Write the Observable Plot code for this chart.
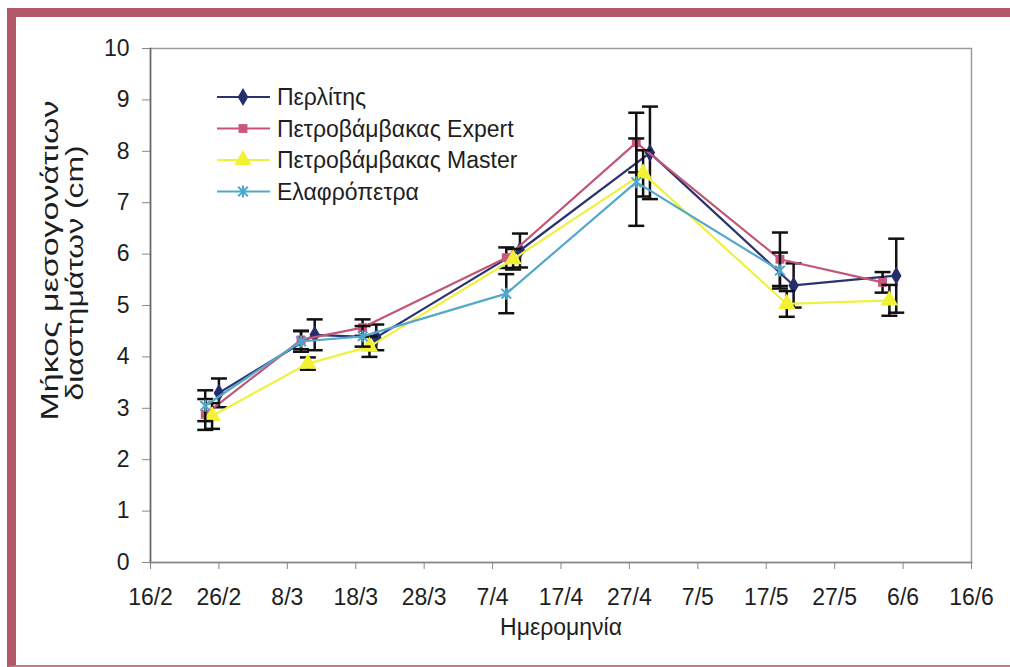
<!DOCTYPE html>
<html><head><meta charset="utf-8">
<script src="https://cdn.jsdelivr.net/npm/d3@7"></script>
<script src="https://cdn.jsdelivr.net/npm/@observablehq/plot@0.6"></script>
<style>
body{margin:0;background:#fff;}
#wrap{position:relative;width:1010px;height:667px;overflow:hidden;background:#fff}
#frame{position:absolute;left:7px;top:8px;width:1010px;height:659px;border-top:9px solid #b3586b;border-left:9px solid #b3586b;border-bottom:2px solid #c27a89;box-sizing:border-box;pointer-events:none}
#wrap svg{position:absolute;left:0;top:0}
</style></head><body><div id="wrap"><div id="frame"></div></div>
<script>
// ---- data ----
const xTickLabels = ["16/2","26/2","8/3","18/3","28/3","7/4","17/4","27/4","7/5","17/5","27/5","6/6","16/6"];
const yTicks = [0,1,2,3,4,5,6,7,8,9,10];
const seriesNames = ["Περλίτης","Πετροβάμβακας Expert","Πετροβάμβακας Master","Ελαφρόπετρα"];

const perlitisDates  = ["26/2","12/3","21/3","11/4","30/4","21/5","5/6"];
const perlitisValues = [3.30, 4.43, 4.38, 6.07, 7.97, 5.39, 5.58];
const perlitisErrors = [0.28, 0.30, 0.25, 0.33, 0.90, 0.43, 0.72];

const expertDates  = ["24/2","10/3","19/3","9/4","28/4","19/5","3/6"];
const expertValues = [2.88, 4.33, 4.57, 5.93, 8.17, 5.90, 5.45];
const expertErrors = [0.30, 0.18, 0.16, 0.20, 0.58, 0.52, 0.20];

const masterDates  = ["25/2","11/3","20/3","10/4","29/4","20/5","4/6"];
const masterValues = [2.85, 3.87, 4.20, 5.90, 7.57, 5.03, 5.10];
const masterErrors = [0.25, 0.12, 0.20, 0.20, 0.45, 0.25, 0.30];

const elafroDates  = ["24/2","10/3","19/3","9/4","28/4","19/5"];
const elafroValues = [3.05, 4.30, 4.40, 5.23, 7.40, 5.68];
const elafroErrors = [0.30, 0.20, 0.20, 0.38, 0.85, 0.35];

const yLabelLines = ["Μήκος μεσογονάτιων", "διαστημάτων (cm)"];
const xLabel = "Ημερομηνία";

// ---- build ----
const YEAR = 2007;
const parseDM = s => { const [d, m] = s.split("/").map(Number); return new Date(Date.UTC(YEAR, m - 1, d)); };
const fmtDM = d => `${d.getUTCDate()}/${d.getUTCMonth() + 1}`;
const xTicks = xTickLabels.map(parseDM);

const colors = ["#262d6c", "#c9587c", "#f2f233", "#4ea6cc"];
const lineColors = ["#2b3270", "#c25676", "#f0f040", "#55a8cc"];

const capSymbol = { draw(ctx, size) { const w = Math.sqrt(size / Math.PI); ctx.moveTo(-w, 0); ctx.lineTo(w, 0); } };
const starSymbol = { draw(ctx, size) { const r = Math.sqrt(size / Math.PI); const a = r * 0.8;
  ctx.moveTo(-a, -a); ctx.lineTo(a, a); ctx.moveTo(-a, a); ctx.lineTo(a, -a); ctx.moveTo(0, -r); ctx.lineTo(0, r); } };
const symbols = ["diamond", "square", "triangle", starSymbol];
const symR = [5.5, 5, 6.5, 6];

const raw = [
  [perlitisDates, perlitisValues, perlitisErrors],
  [expertDates, expertValues, expertErrors],
  [masterDates, masterValues, masterErrors],
  [elafroDates, elafroValues, elafroErrors]
];
const tables = raw.map(([ds, vs, es], i) => ds.map((d, j) => ({series: seriesNames[i], date: parseDM(d), value: vs[j], err: es[j]})));

const marks = [
  Plot.frame({stroke: "#9a9a9a", strokeWidth: 1.5}),
  Plot.axisY({ticks: yTicks, tickSize: 8, tickPadding: 13, fontSize: 23, label: null, stroke: "#888", color: "#1e1e1e"}),
  Plot.axisX({ticks: xTicks, tickSize: 7, tickPadding: 19, tickFormat: fmtDM, fontSize: 23, label: null, stroke: "#888", color: "#1e1e1e"}),
  Plot.frame({anchor: "left", stroke: "#666", strokeWidth: 1.5}),
  Plot.frame({anchor: "bottom", stroke: "#888", strokeWidth: 1.5}),
];
tables.forEach((t, i) => {
  marks.push(Plot.line(t, {x: "date", y: "value", stroke: lineColors[i], strokeWidth: 2.2}));
  marks.push(Plot.ruleX(t, {x: "date", y1: d => d.value - d.err, y2: d => d.value + d.err, stroke: "#111", strokeWidth: 2.5}));
  marks.push(Plot.dot(t, {x: "date", y: d => d.value + d.err, symbol: capSymbol, r: 8, stroke: "#111", strokeWidth: 2.5}));
  marks.push(Plot.dot(t, {x: "date", y: d => d.value - d.err, symbol: capSymbol, r: 8, stroke: "#111", strokeWidth: 2.5}));
  if (i === 3) {
    marks.push(Plot.dot(t, {x: "date", y: "value", symbol: symbols[i], r: symR[i], stroke: colors[i], strokeWidth: 2, fill: "none"}));
  } else {
    marks.push(Plot.dot(t, {x: "date", y: "value", symbol: symbols[i], r: symR[i], fill: colors[i], stroke: "none"}));
  }
});
marks.push(Plot.text([yLabelLines[0]], {text: d => d, frameAnchor: "left", dx: -100, dy: 115, rotate: -90, textAnchor: "start", fontSize: 23, fill: "#1e1e1e", className: "ylab1"}));
marks.push(Plot.text([yLabelLines[1]], {text: d => d, frameAnchor: "left", dx: -75, dy: 95, rotate: -90, textAnchor: "start", fontSize: 23, fill: "#1e1e1e", className: "ylab2"}));
marks.push(Plot.text([xLabel], {text: d => d, frameAnchor: "bottom", dy: 72, fontSize: 23, fill: "#1e1e1e"}));

const chart = Plot.plot({
  width: 1010, height: 667,
  marginLeft: 150, marginTop: 48, marginRight: 39, marginBottom: 105,
  style: {fontFamily: "'Liberation Sans', Arial, sans-serif", background: "transparent"},
  x: {type: "utc", domain: [xTicks[0], xTicks[xTicks.length - 1]]},
  y: {domain: [0, 10]},
  marks
});

const svg = d3.select(chart);
// stretch y-axis title lines to the reference's length
svg.selectAll(".ylab1 text").attr("textLength", 320).attr("lengthAdjust", "spacingAndGlyphs");
svg.selectAll(".ylab2 text").attr("textLength", 255).attr("lengthAdjust", "spacingAndGlyphs");

// legend inside plot area
const lg = svg.append("g").attr("font-family", "'Liberation Sans', Arial, sans-serif").attr("font-size", 23).attr("fill", "#1e1e1e").attr("text-anchor", "start");
seriesNames.forEach((name, i) => {
  const cy = 97 + i * 31.5;
  const g = lg.append("g").attr("transform", `translate(0,${cy})`);
  g.append("line").attr("x1", 217).attr("x2", 270).attr("y1", 0).attr("y2", 0).attr("stroke", lineColors[i]).attr("stroke-width", 2.2);
  const sym = typeof symbols[i] === "string" ? d3["symbol" + symbols[i][0].toUpperCase() + symbols[i].slice(1)] : symbols[i];
  const path = g.append("path").attr("transform", "translate(243,0)").attr("d", d3.symbol(sym, Math.PI * symR[i] * symR[i])());
  if (i === 3) path.attr("fill", "none").attr("stroke", colors[i]).attr("stroke-width", 2); else path.attr("fill", colors[i]);
  g.append("text").attr("x", 277).attr("dy", "0.35em").attr("text-anchor", "start").text(name);
});

document.getElementById("wrap").insertBefore(chart, document.getElementById("frame"));
</script>
</body></html>
